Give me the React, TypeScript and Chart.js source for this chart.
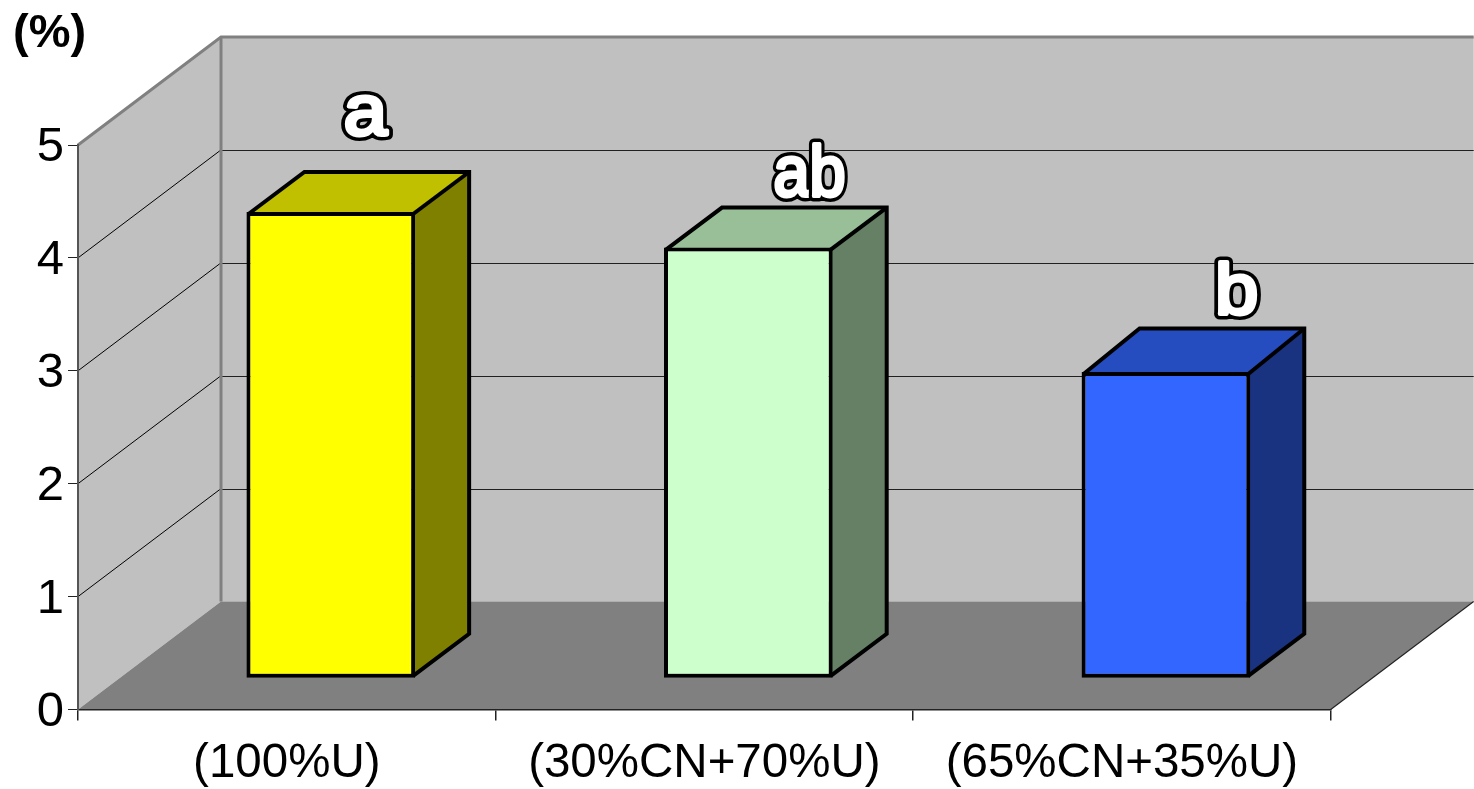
import React, { useEffect, useRef } from "react";
import { Chart, registerables } from "chart.js";

Chart.register(...registerables);

const categories = ["(100%U)", "(30%CN+70%U)", "(65%CN+35%U)"];
const values = [4.13, 3.815, 2.713];
const frontColors = ["#ffff00", "#ccffcc", "#3366ff"];
const topColors = ["#c0c000", "#99bf99", "#264dbf"];
const sideColors = ["#808000", "#668066", "#1a3380"];
const letters = ["a", "ab", "b"];
const letterValues = [5.09, 4.55, 3.5];
const letterShifts = [0.188, 0.252, 0.275];
const letterWidths = [1.08, 0.9, 1.08];
const unitLabel = "(%)";

const FONT = '"Liberation Sans", Arial, sans-serif';
const WALL_DX = 143;
const WALL_DY = -108;
const BAR_DX = 44;
const BAR_DY = -31.2;
const BAR_DEPTH_X = 56;
const BAR_DEPTH_Y = -42;
const TOP_EXTRA = [0, 0, 3.5];

function poly(ctx: CanvasRenderingContext2D, pts: number[][], fill?: string, stroke?: string, lw = 1) {
  ctx.beginPath();
  pts.forEach(([x, y], i) => (i ? ctx.lineTo(x, y) : ctx.moveTo(x, y)));
  if (fill) {
    ctx.closePath();
    ctx.fillStyle = fill;
    ctx.fill();
  }
  if (stroke) {
    ctx.strokeStyle = stroke;
    ctx.lineWidth = lw;
    ctx.lineJoin = "miter";
    ctx.stroke();
  }
}

const chart3d = {
  id: "chart3d",
  beforeDraw(chart: any) {
    const ctx: CanvasRenderingContext2D = chart.ctx;
    const { left, right, top, bottom } = chart.chartArea;
    const y = chart.scales.y;
    ctx.save();
    poly(ctx, [[left + WALL_DX, top + WALL_DY], [right + WALL_DX, top + WALL_DY], [right + WALL_DX, bottom + WALL_DY], [left + WALL_DX, bottom + WALL_DY]], "#c0c0c0");
    poly(ctx, [[left, top], [left + WALL_DX, top + WALL_DY], [left + WALL_DX, bottom + WALL_DY], [left, bottom]], "#c0c0c0");
    poly(ctx, [[left, bottom], [left + WALL_DX, bottom + WALL_DY], [right + WALL_DX, bottom + WALL_DY], [right, bottom]], "#808080");
    for (let v = 1; v <= 4; v++) {
      const py = y.getPixelForValue(v);
      poly(ctx, [[left, py], [left + WALL_DX, py + WALL_DY]], undefined, "#000000", 1);
      poly(ctx, [[left + WALL_DX, Math.round(py + WALL_DY) + 0.5], [right + WALL_DX, Math.round(py + WALL_DY) + 0.5]], undefined, "#202020", 1.2);
    }
    poly(ctx, [[left, top], [left + WALL_DX, top + WALL_DY], [right + WALL_DX, top + WALL_DY]], undefined, "#808080", 3);
    poly(ctx, [[left + WALL_DX, top + WALL_DY], [left + WALL_DX, bottom + WALL_DY]], undefined, "#808080", 3);
    poly(ctx, [[right, bottom], [right + WALL_DX, bottom + WALL_DY]], undefined, "#222222", 1.2);
    ctx.restore();
  },
  beforeDatasetDraw(chart: any, args: any) {
    const ctx: CanvasRenderingContext2D = chart.ctx;
    ctx.save();
    ctx.translate(BAR_DX, BAR_DY);
    args.meta.data.forEach((bar: any, i: number) => {
      const inset = 2;
      const x0 = bar.x - bar.width / 2 + inset;
      const x1 = bar.x + bar.width / 2 - inset;
      const yt = bar.y + inset;
      const yb = bar.base - inset;
      const back = yt + BAR_DEPTH_Y - TOP_EXTRA[i];
      poly(ctx, [[x1, yt], [x1 + BAR_DEPTH_X, back], [x1 + BAR_DEPTH_X, yb + BAR_DEPTH_Y], [x1, yb]], sideColors[i]);
      poly(ctx, [[x0, yt], [x0 + BAR_DEPTH_X, back], [x1 + BAR_DEPTH_X, back], [x1, yt]], topColors[i]);
      poly(ctx, [[x1, yb], [x1 + BAR_DEPTH_X, yb + BAR_DEPTH_Y], [x1 + BAR_DEPTH_X, back], [x0 + BAR_DEPTH_X, back], [x0, yt]], undefined, "#000000", 4);
      poly(ctx, [[x1, yt], [x1 + BAR_DEPTH_X, back]], undefined, "#000000", 4);
    });
  },
  afterDatasetDraw(chart: any) {
    chart.ctx.restore();
  },
  afterDatasetsDraw(chart: any) {
    const ctx: CanvasRenderingContext2D = chart.ctx;
    const { x, y } = chart.scales;
    ctx.save();
    ctx.textBaseline = "alphabetic";
    ctx.textAlign = "left";
    ctx.lineJoin = "round";
    ctx.font = `72px ${FONT}`;
    letters.forEach((t, i) => {
      const px = x.getPixelForValue(i) + letterShifts[i] * (x.getPixelForValue(1) - x.getPixelForValue(0));
      const py = y.getPixelForValue(letterValues[i]);
      const total = ctx.measureText(t).width;
      ctx.save();
      ctx.translate(px, py);
      ctx.scale(letterWidths[i], 1);
      let cursor = -total / 2;
      for (const ch of t) {
        ctx.strokeStyle = "#000000";
        ctx.lineWidth = 11;
        ctx.strokeText(ch, cursor, 0);
        ctx.strokeStyle = "#ffffff";
        ctx.lineWidth = 4;
        ctx.strokeText(ch, cursor, 0);
        ctx.fillStyle = "#ffffff";
        ctx.fillText(ch, cursor, 0);
        cursor += ctx.measureText(ch).width;
      }
      ctx.restore();
    });
    ctx.font = `bold 47px ${FONT}`;
    ctx.fillStyle = "#000000";
    ctx.fillText(unitLabel, 13, 47);
    ctx.restore();
  },
};

export default function App() {
  const ref = useRef<HTMLCanvasElement>(null);
  useEffect(() => {
    const chart = new Chart(ref.current!, {
      type: "bar",
      data: {
        labels: categories,
        datasets: [
          {
            data: values,
            backgroundColor: frontColors,
            borderColor: "#000000",
            borderWidth: 4,
            borderSkipped: false,
            barPercentage: 0.404,
            categoryPercentage: 1,
          },
        ],
      },
      options: {
        responsive: false,
        animation: false,
        layout: { padding: { top: 145, right: 143.3, bottom: 0, left: 0 } },
        plugins: { legend: { display: false }, title: { display: false }, tooltip: { enabled: false } },
        scales: {
          x: {
            offset: true,
            afterFit: (s: any) => {
              s.height = 79.5;
            },
            grid: { offset: true, drawOnChartArea: false, drawTicks: true, tickLength: 11, color: "#222222", lineWidth: 1.5 },
            border: { display: true, color: "#222222", width: 1.5 },
            ticks: { color: "#000000", font: { family: FONT, size: 47.5 }, padding: 15, maxRotation: 0, autoSkip: false },
          },
          y: {
            min: 0,
            max: 5,
            afterFit: (s: any) => {
              s.width = 78;
            },
            grid: { drawOnChartArea: false, drawTicks: true, tickLength: 10, color: "#222222", lineWidth: 1 },
            border: { display: true, color: "#555555", width: 2 },
            ticks: { stepSize: 1, color: "#000000", font: { family: FONT, size: 49 }, padding: 4, labelOffset: 2.5 },
          },
        },
      },
      plugins: [chart3d],
    } as any);
    return () => chart.destroy();
  }, []);
  return (
    <div style={{ position: "fixed", left: 0, top: 0, width: 1474, height: 789, background: "#ffffff" }}>
      <canvas ref={ref} width={1474} height={789} style={{ display: "block" }} />
    </div>
  );
}
